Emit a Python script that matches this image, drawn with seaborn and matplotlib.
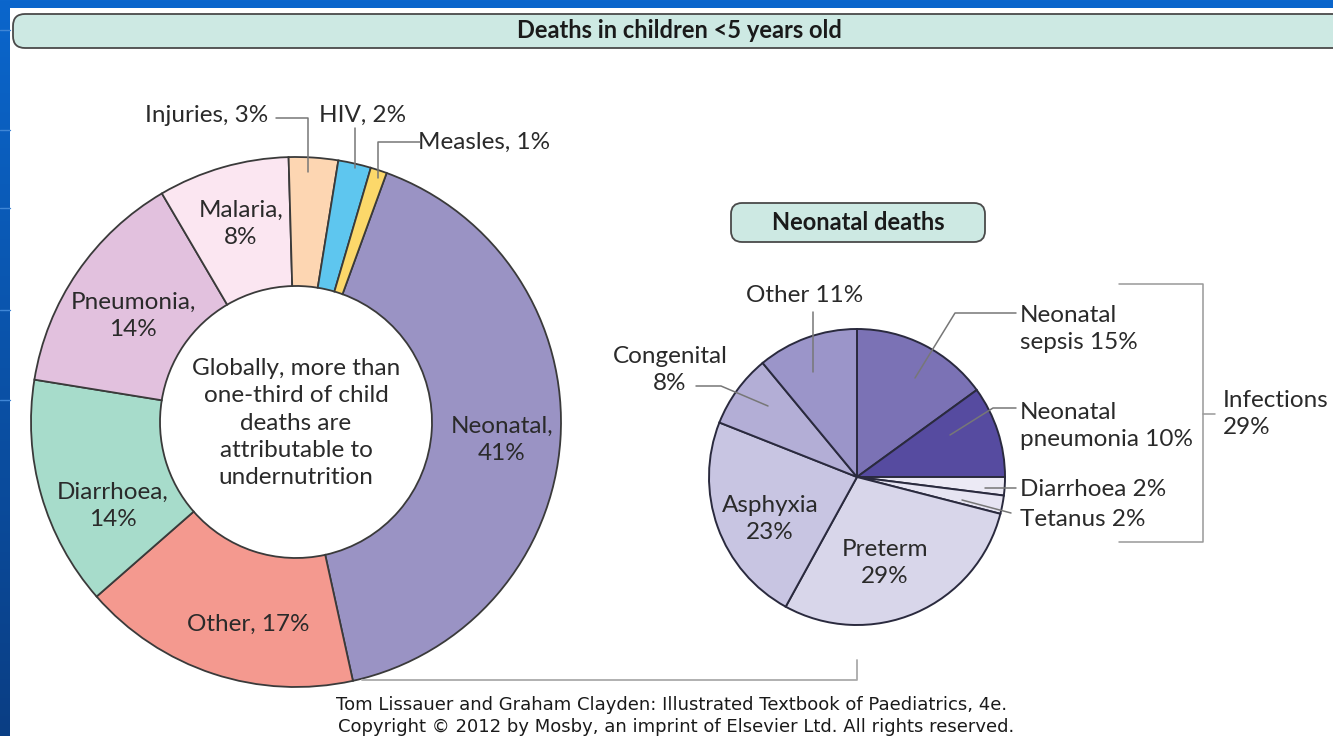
import numpy as np
import matplotlib
matplotlib.use("Agg")
import matplotlib.pyplot as plt
from matplotlib.patches import FancyBboxPatch, Rectangle
from matplotlib.colors import LinearSegmentedColormap
import seaborn as sns

# Data: deaths in children under 5 (donut) - listed clockwise from the Neonatal wedge
causes = ["Neonatal", "Other", "Diarrhoea", "Pneumonia", "Malaria", "Injuries", "HIV", "Measles"]
shares = [41, 17, 14, 14, 8, 3, 2, 1]
cause_colors = ["#9a93c4", "#f4998f", "#a7dccb", "#e2c1de", "#fbe6f1", "#fdd6b2", "#5ec6ef", "#fcd86a"]

# Data: neonatal deaths (pie) - clockwise from 12 o'clock
neo_causes = ["Neonatal sepsis", "Neonatal pneumonia", "Diarrhoea", "Tetanus",
              "Preterm", "Asphyxia", "Congenital", "Other"]
neo_shares = [15, 10, 2, 2, 29, 23, 8, 11]
neo_colors = ["#7b72b5", "#564ba0", "#eceaf5", "#e6e4f2", "#d8d6ea", "#c8c5e2", "#b3aed6", "#9b95c9"]
infections_total = 29

W, H = 1333, 736

sns.set_theme(style="white")
plt.rcParams['font.family'] = ['Lato', 'DejaVu Sans']


def Y(y):
    # image-style y (from top) to axis y (from bottom)
    return H - y


fig = plt.figure(figsize=(W / 100, H / 100), dpi=100)
fig.patch.set_facecolor("#0b5cbf")
ax = fig.add_axes([0, 0, 1, 1])
ax.set_axis_off()

# blue slide frame with gradient on the left
grad = np.linspace(0, 1, 256).reshape(-1, 1)
blue_cmap = LinearSegmentedColormap.from_list("b", ["#0b66cc", "#0a3e84"])
ax.imshow(grad, cmap=blue_cmap, extent=(0, W, 0, H), aspect="auto", origin="upper", zorder=0)
ax.add_patch(Rectangle((10, 0), W - 10, H - 8, facecolor="white", edgecolor="none", zorder=1))
for yy in [30, 130, 208, 310, 400]:
    ax.plot([0, 10], [Y(yy), Y(yy)], color="#3f86d6", lw=1, zorder=1)

# title banner
ax.add_patch(FancyBboxPatch((13, Y(48)), 1340, 34, boxstyle="round,pad=0,rounding_size=12",
                            facecolor="#cde9e3", edgecolor="#4a4a4a", lw=1.3, zorder=2))
ax.text(679, Y(30), "Deaths in children <5 years old", ha="center", va="center",
        fontsize=17, fontweight="bold", color="#1a1a1a", zorder=3)

# donut chart
cx, cy, R = 296, Y(422), 265
ax.pie(shares, colors=cause_colors, startangle=70, counterclock=False,
       center=(cx, cy), radius=R, frame=True,
       wedgeprops=dict(width=129, edgecolor="#3a3a3a", linewidth=1.3))

FS = 17.5
lab_kw = dict(ha="center", va="center", fontsize=FS, color="#2a2a2a", zorder=5, linespacing=1.38)
vals = dict(zip(causes, shares))
ax.text(502, Y(440), f"Neonatal,\n{vals['Neonatal']}%", **lab_kw)
ax.text(248, Y(624), f"Other, {vals['Other']}%", **lab_kw)
ax.text(113, Y(506), f"Diarrhoea,\n{vals['Diarrhoea']}%", **lab_kw)
ax.text(133, Y(316), f"Pneumonia,\n{vals['Pneumonia']}%", **lab_kw)
ax.text(241, Y(224), f"Malaria,\n{vals['Malaria']}%", **lab_kw)
ax.text(268, Y(115), f"Injuries, {vals['Injuries']}%", ha="right", va="center",
        fontsize=FS, color="#2a2a2a", zorder=5)
ax.text(363, Y(115), f"HIV, {vals['HIV']}%", ha="center", va="center",
        fontsize=FS, color="#2a2a2a", zorder=5)
ax.text(418, Y(142), f"Measles, {vals['Measles']}%", ha="left", va="center",
        fontsize=FS, color="#2a2a2a", zorder=5)

lead = dict(color="#777777", lw=1.1, zorder=6)
ax.plot([276, 308, 308], [Y(118), Y(118), Y(172)], **lead)
ax.plot([355, 355], [Y(128), Y(168)], **lead)
ax.plot([420, 378, 378], [Y(142), Y(142), Y(178)], **lead)

ax.text(cx, Y(423), "Globally, more than\none-third of child\ndeaths are\nattributable to\nundernutrition",
        ha="center", va="center", fontsize=FS, color="#2a2a2a", linespacing=1.36, zorder=5)

# neonatal banner
ax.add_patch(FancyBboxPatch((731, Y(242)), 254, 39, boxstyle="round,pad=0,rounding_size=11",
                            facecolor="#cde9e3", edgecolor="#4a4a4a", lw=1.3, zorder=2))
ax.text(858, Y(222), "Neonatal deaths", ha="center", va="center",
        fontsize=17, fontweight="bold", color="#1a1a1a", zorder=3)

# neonatal pie
px, py, r = 857, Y(477), 148
ax.pie(neo_shares, colors=neo_colors, startangle=90, counterclock=False,
       center=(px, py), radius=r, frame=True,
       wedgeprops=dict(edgecolor="#2a2a3e", linewidth=1.4))

nv = dict(zip(neo_causes, neo_shares))
ax.text(805, Y(296), f"Other {nv['Other']}%", **lab_kw)
ax.text(670, Y(370), f"Congenital\n{nv['Congenital']}%", **lab_kw)
ax.text(770, Y(519), f"Asphyxia\n{nv['Asphyxia']}%", **lab_kw)
ax.text(885, Y(563), f"Preterm\n{nv['Preterm']}%", **lab_kw)
left_kw = dict(ha="left", va="center", fontsize=FS, color="#2a2a2a", zorder=5, linespacing=1.38)
ax.text(1020, Y(329), f"Neonatal\nsepsis {nv['Neonatal sepsis']}%", **left_kw)
ax.text(1020, Y(426), f"Neonatal\npneumonia {nv['Neonatal pneumonia']}%", **left_kw)
ax.text(1020, Y(489), f"Diarrhoea {nv['Diarrhoea']}%", **left_kw)
ax.text(1020, Y(519), f"Tetanus {nv['Tetanus']}%", **left_kw)
ax.text(1223, Y(414), f"Infections\n{infections_total}%", **left_kw)

ax.plot([813, 813], [Y(312), Y(372)], **lead)
ax.plot([696, 721, 768], [Y(386), Y(386), Y(406)], **lead)
ax.plot([1016, 955, 915], [Y(313), Y(313), Y(378)], **lead)
ax.plot([1016, 993, 950], [Y(408), Y(408), Y(435)], **lead)
ax.plot([985, 1016], [Y(488), Y(488)], **lead)
ax.plot([962, 1011], [Y(500), Y(513)], **lead)

# bracket for infections
ax.plot([1119, 1203, 1203, 1119], [Y(284), Y(284), Y(542), Y(542)], color="#999999", lw=1.1, zorder=4)
ax.plot([1203, 1215], [Y(414), Y(414)], color="#999999", lw=1.1, zorder=4)

# connector from donut neonatal wedge to the neonatal pie
ax.plot([362, 857, 857], [Y(680), Y(680), Y(660)], color="#aaaaaa", lw=1.3, zorder=4)

# footer
ax.text(672, Y(705), "Tom Lissauer and Graham Clayden: Illustrated Textbook of Paediatrics, 4e.",
        ha="center", va="center", fontsize=13, family="DejaVu Sans", color="#1a1a1a", zorder=5)
ax.text(676, Y(727), "Copyright \u00a9 2012 by Mosby, an imprint of Elsevier Ltd. All rights reserved.",
        ha="center", va="center", fontsize=13, family="DejaVu Sans", color="#1a1a1a", zorder=5)

ax.set_aspect("auto")
ax.set_xlim(0, W)
ax.set_ylim(0, H)

fig.savefig("out.png", dpi=100)
